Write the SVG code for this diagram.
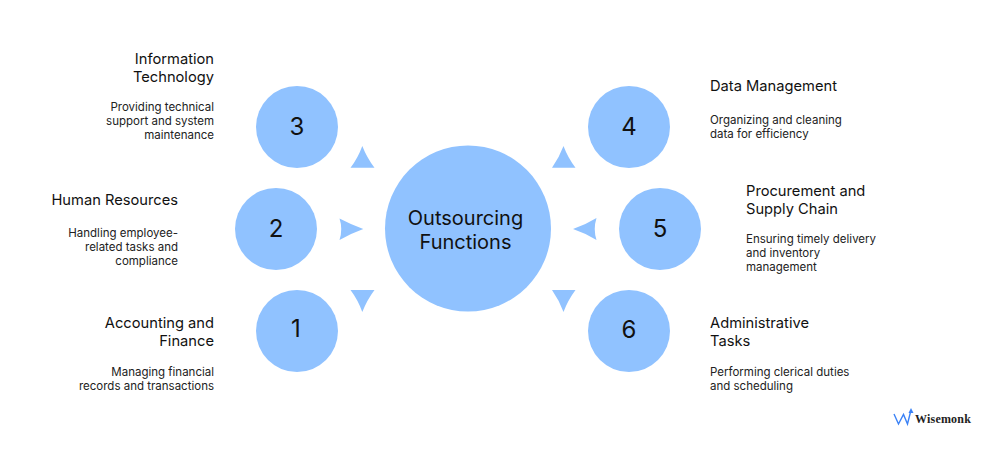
<svg xmlns="http://www.w3.org/2000/svg" width="1004" height="452" viewBox="0 0 1004 452">
<style>
.c{fill:#90c2ff}
.a{fill:#90c2ff}
text{font-family:"Inter","Liberation Sans",sans-serif;fill:#111}
.n{font-size:24px;text-anchor:middle}
.m{font-size:20px;text-anchor:middle}
.t{font-size:14.7px}
.d{font-size:11.5px;fill:#222}
.r{text-anchor:end}
</style>
<rect width="1004" height="452" fill="#fff"/>
<g id="connectors">
<path class="a" d="M362.3 146Q367 158 374.5 167.7H350.5Q358 158 362.3 146Z"/>
<path class="a" d="M563.5 146Q568 158 575.5 167.7H552Q559 158 563.5 146Z"/>
<path class="a" d="M339.5 218.5Q352 225 363.3 229Q352 233 339.5 240Q343 229 339.5 218.5Z"/>
<path class="a" d="M573 229Q585 225 596.5 218Q593 229 596.5 240Q585 233 573 229Z"/>
<path class="a" d="M350.5 290H374.5Q367 300 362.3 312Q358 300 350.5 290Z"/>
<path class="a" d="M552 290H575.5Q568 300 563.5 312Q559 300 552 290Z"/>
</g>
<g id="center"><circle class="c" cx="468" cy="228.500" r="83"/><text class="m" x="465.500" y="225">Outsourcing</text><text class="m" x="465.500" y="249">Functions</text></g>
<g id="node3"><circle class="c" cx="297" cy="127" r="41"/><text class="n" x="297" y="135">3</text>
<text class="t r" x="214" y="64">Information</text><text class="t r" x="214" y="82">Technology</text>
<text class="d r" x="214" y="111">Providing technical</text><text class="d r" x="214" y="125">support and system</text><text class="d r" x="214" y="139">maintenance</text></g>
<g id="node2"><circle class="c" cx="276" cy="229" r="41"/><text class="n" x="276" y="237">2</text>
<text class="t r" x="178" y="205">Human Resources</text>
<text class="d r" x="178" y="237">Handling employee-</text><text class="d r" x="178" y="251">related tasks and</text><text class="d r" x="178" y="265">compliance</text></g>
<g id="node1"><circle class="c" cx="297" cy="331" r="41"/><text class="n" x="296" y="337">1</text>
<text class="t r" x="214" y="328">Accounting and</text><text class="t r" x="214" y="346">Finance</text>
<text class="d r" x="214" y="376">Managing financial</text><text class="d r" x="214" y="390">records and transactions</text></g>
<g id="node4"><circle class="c" cx="629" cy="127" r="41"/><text class="n" x="629" y="135">4</text>
<text class="t" x="710" y="91">Data Management</text>
<text class="d" x="710" y="124">Organizing and cleaning</text><text class="d" x="710" y="138">data for efficiency</text></g>
<g id="node5"><circle class="c" cx="660" cy="229" r="41"/><text class="n" x="660" y="237">5</text>
<text class="t" x="746" y="196">Procurement and</text><text class="t" x="746" y="214">Supply Chain</text>
<text class="d" x="746" y="243">Ensuring timely delivery</text><text class="d" x="746" y="257">and inventory</text><text class="d" x="746" y="271">management</text></g>
<g id="node6"><circle class="c" cx="629" cy="331" r="41"/><text class="n" x="629" y="338">6</text>
<text class="t" x="710" y="328">Administrative</text><text class="t" x="710" y="346">Tasks</text>
<text class="d" x="710" y="376">Performing clerical duties</text><text class="d" x="710" y="390">and scheduling</text></g>
<g id="logo"><path d="M894 414L898.500 424L903.500 414.500L907.500 424L910.500 412" fill="none" stroke="#3b82f6" stroke-width="1.400"/><path d="M911 408L908.500 413H913.500Z" fill="#3b82f6"/>
<text x="915" y="423" style="font-family:'Liberation Serif',serif;font-weight:700;font-size:12px;letter-spacing:.2px;fill:#222">Wisemonk</text></g>
</svg>
